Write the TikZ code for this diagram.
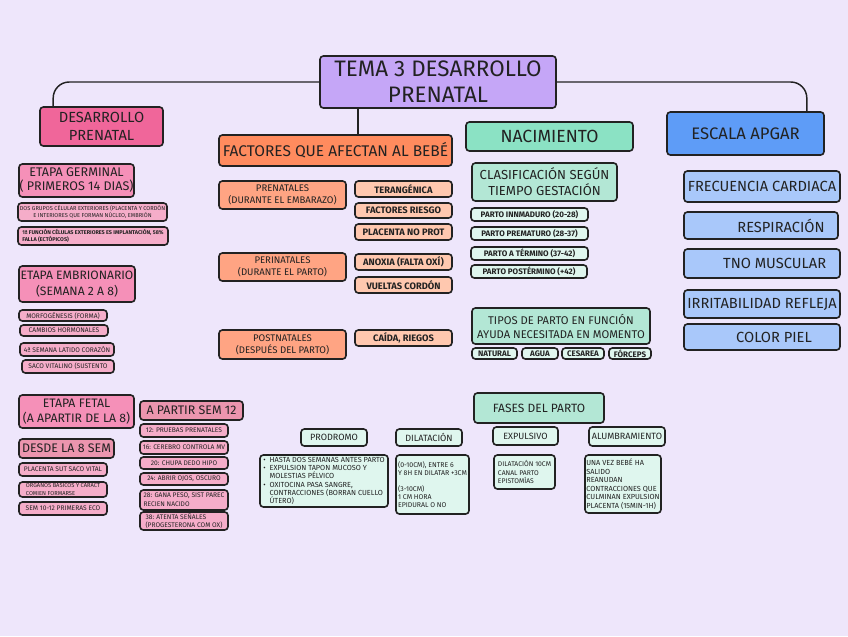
\documentclass[tikz,border=0pt]{standalone}
\usepackage{fontspec}
\setmainfont{Fira Sans}
\definecolor{bgc}{HTML}{EEE6FB}
\definecolor{titlec}{HTML}{C5A6F7}
\definecolor{pinkA}{HTML}{F0669A}
\definecolor{pinkB}{HTML}{F590B8}
\definecolor{pinkC}{HTML}{F5ADC9}
\definecolor{pinkD}{HTML}{EB95AE}
\definecolor{orA}{HTML}{FF8B5E}
\definecolor{orB}{HTML}{FFA483}
\definecolor{orC}{HTML}{FFC8AF}
\definecolor{mnA}{HTML}{8BE2C4}
\definecolor{mnB}{HTML}{B3E7D5}
\definecolor{mnC}{HTML}{DFF6EE}
\definecolor{blA}{HTML}{5E9CF7}
\definecolor{blB}{HTML}{A9C8FA}
\definecolor{ink}{HTML}{222222}
\newcommand\fz[2]{\fontsize{#1}{#2}\selectfont}
\newcommand\bx[7]{\node[#6, minimum width={(#4-#2)*0.75pt}, minimum height={(#5-#3)*0.75pt}] (#1) at ({(#2+#4)/2},{(#3+#5)/2}) {#7};}
\tikzset{
  base/.style={draw=ink, line width=1.2pt, rounded corners=2.5pt, inner sep=0pt, align=center, text=ink},
  conn/.style={draw=ink, line width=1.1pt, rounded corners=12pt},
}
\begin{document}
\begin{tikzpicture}[x=0.75pt,y=-0.75pt]
\fill[bgc] (0,0) rectangle (848,636);
\useasboundingbox (0,0) rectangle (848,636);

% main
\bx{title}{320}{56}{556}{108}{base,fill=titlec,font=\fz{16.8}{19.5}}{TEMA 3 DESARROLLO\\PRENATAL}
\bx{dp}{40}{107}{163}{146}{base,fill=pinkA,font=\fz{11}{13}}{DESARROLLO\\PRENATAL}
\bx{fac}{219}{135}{452}{166}{base,fill=orA,font=\fz{11.6}{13}}{FACTORES QUE AFECTAN AL BEBÉ}
\bx{nac}{466}{122}{633}{151}{base,fill=mnA,font=\fz{13.2}{15}}{NACIMIENTO}
\bx{apg}{667}{112}{824}{155}{base,fill=blA,font=\fz{12.5}{14}}{ESCALA APGAR}

\draw[conn] (title.west) -| ([xshift=10.5pt]dp.north west);
\draw[conn] (title.east) -| ([xshift=-13.5pt]apg.north east);
\draw[conn] ([xshift=-60pt]title.south) -- ([xshift=-60pt]title.south |- fac.north);

% desarrollo prenatal column
\bx{germ}{19}{164}{134}{197}{base,fill=pinkB,font=\fz{9.4}{10.5}}{ETAPA GERMINAL\\( PRIMEROS 14 DIAS)}
\bx{g1}{18}{203}{167}{221}{base,fill=pinkC,font=\fz{4.25}{5.2}}{DOS GRUPOS CÉLULAR EXTERIORES (PLACENTA Y CORDÓN\\ E INTERIORES QUE FORMAN NÚCLEO, EMBRIÓN}
\bx{g2}{18}{227}{168}{245}{base,fill=pinkC,font=\fz{4.1}{5.2}\bfseries,align=left}{1ª FUNCIÓN CÉLULAS EXTERIORES ES IMPLANTACIÓN, 58\%\\FALLA (ECTÓPICOS)\hspace{5.5em}}
\bx{emb}{19}{266}{135}{302}{base,fill=pinkB,font=\fz{9.1}{12}}{ETAPA EMBRIONARIO\\(SEMANA 2 A 8)}
\bx{e1}{19}{310}{107}{321}{base,fill=pinkC,font=\fz{5}{6}}{MORFOGÉNESIS (FORMA)}
\bx{e2}{20}{325}{108}{336}{base,fill=pinkC,font=\fz{5}{6}}{CAMBIOS HORMONALES}
\bx{e3}{20}{343}{114}{356}{base,fill=pinkC,font=\fz{5}{6}}{4ª SEMANA LATIDO CORAZÓN}
\bx{e4}{22}{360}{114}{373}{base,fill=pinkC,font=\fz{5}{6}}{SACO VITALINO (SUSTENTO}
\bx{fet}{19}{395}{134}{428}{base,fill=pinkB,font=\fz{9.2}{11.3}}{ETAPA FETAL\\(A APARTIR DE LA 8)}
\bx{d8}{19}{439}{114}{458}{base,fill=pinkD,font=\fz{9.3}{10}}{DESDE LA 8 SEM}
\bx{f1}{19}{463}{107}{476}{base,fill=pinkC,font=\fz{5}{6}}{PLACENTA SUT SACO VITAL}
\bx{f2}{19}{482}{107}{497}{base,fill=pinkC,font=\fz{4.3}{5.4},align=left}{ORGANOS BASICOS Y CARACT\\COMIEN FORMARSE}
\bx{f3}{19}{502}{107}{515}{base,fill=pinkC,font=\fz{5}{6}}{SEM 10-12 PRIMERAS ECO}
\bx{a12}{140}{401}{243}{420}{base,fill=pinkD,font=\fz{9.3}{10}}{A PARTIR SEM 12}
\bx{s1}{140}{424}{228}{437}{base,fill=pinkC,font=\fz{5}{6}}{12: PRUEBAS PRENATALES}
\bx{s2}{140}{441}{228}{454}{base,fill=pinkC,font=\fz{5}{6}}{16: CEREBRO CONTROLA MV}
\bx{s3}{140}{457}{228}{469}{base,fill=pinkC,font=\fz{5}{6}}{20: CHUPA DEDO HIPO}
\bx{s4}{140}{473}{228}{485}{base,fill=pinkC,font=\fz{5}{6}}{24: ABRIR OJOS, OSCURO}
\bx{s5}{140}{490}{228}{510}{base,fill=pinkC,font=\fz{5}{6.5},align=left}{28: GANA PESO, SIST PAREC\\RECIEN NACIDO}
\bx{s6}{140}{512}{228}{530}{base,fill=pinkC,font=\fz{5}{6.5},align=left}{38: ATENTA SEÑALES\\(PROGESTERONA COM OX)}

% factores
\bx{pre}{219}{181}{346}{209}{base,fill=orB,font=\fz{7.2}{9}}{PRENATALES\\(DURANTE EL EMBARAZO)}
\bx{t1}{355}{181}{452}{197}{base,fill=orC,font=\fz{7}{8}\bfseries}{TERANGÉNICA}
\bx{t2}{355}{203}{452}{218}{base,fill=orC,font=\fz{7}{8}\bfseries}{FACTORES RIESGO}
\bx{t3}{355}{224}{452}{240}{base,fill=orC,font=\fz{7}{8}\bfseries}{PLACENTA NO PROT}
\bx{per}{219}{253}{346}{281}{base,fill=orB,font=\fz{7.2}{9}}{PERINATALES\\(DURANTE EL PARTO)}
\bx{t4}{355}{254}{452}{270}{base,fill=orC,font=\fz{7}{8}\bfseries}{ANOXIA (FALTA OXÍ)}
\bx{t5}{355}{277}{452}{293}{base,fill=orC,font=\fz{7}{8}\bfseries}{VUELTAS CORDÓN}
\bx{pos}{219}{330}{346}{359}{base,fill=orB,font=\fz{7.2}{9}}{POSTNATALES\\(DESPUÉS DEL PARTO)}
\bx{t6}{355}{330}{452}{346}{base,fill=orC,font=\fz{7}{8}\bfseries}{CAÍDA, RIEGOS}

% nacimiento
\bx{cla}{472}{163}{617}{201}{base,fill=mnB,font=\fz{9.8}{12}}{CLASIFICACIÓN SEGÚN\\TIEMPO GESTACIÓN}
\bx{p1}{471}{208}{588}{221}{base,fill=mnC,font=\fz{6}{7}\bfseries}{PARTO INNMADURO (20-28)}
\bx{p2}{471}{227}{588}{240}{base,fill=mnC,font=\fz{6}{7}\bfseries}{PARTO PREMATURO (28-37)}
\bx{p3}{471}{247}{588}{260}{base,fill=mnC,font=\fz{6}{7}\bfseries}{PARTO A TÉRMINO (37-42)}
\bx{p4}{471}{265}{587}{278}{base,fill=mnC,font=\fz{6}{7}\bfseries}{PARTO POSTÉRMINO (+42)}
\bx{tip}{472}{308}{650}{344}{base,fill=mnB,font=\fz{8.4}{10.5}}{TIPOS DE PARTO EN FUNCIÓN\\AYUDA NECESITADA EN MOMENTO}
\bx{n1}{472}{348}{517}{359}{base,fill=mnC,font=\fz{6}{7}\bfseries}{NATURAL}
\bx{n2}{522}{348}{558}{359}{base,fill=mnC,font=\fz{6}{7}\bfseries}{AGUA}
\bx{n3}{562}{348}{604}{359}{base,fill=mnC,font=\fz{6}{7}\bfseries}{CESAREA}
\bx{n4}{609}{348}{651}{359}{base,fill=mnC,font=\fz{6}{7}\bfseries}{FÓRCEPS}

% fases
\bx{fas}{474}{393}{604}{423}{base,fill=mnB,font=\fz{9}{10}}{FASES DEL PARTO}
\bx{ph1}{301}{429}{367}{446}{base,fill=mnC,font=\fz{6.8}{7.5}}{PRODROMO}
\bx{ph2}{396}{429}{462}{446}{base,fill=mnC,font=\fz{6.8}{7.5}}{DILATACIÓN}
\bx{ph3}{493}{427}{558}{445}{base,fill=mnC,font=\fz{6.8}{7.5}}{EXPULSIVO}
\bx{ph4}{589}{427}{665}{446}{base,fill=mnC,font=\fz{6.8}{7.5}}{ALUMBRAMIENTO}
\bx{c1}{260}{455}{388}{507}{base,fill=mnC,font=\fz{5.5}{6.1},align=left}{\textbullet\ \ HASTA DOS SEMANAS ANTES PARTO\\\textbullet\ \ EXPULSION TAPON MUCOSO Y\\\phantom{\textbullet\ \ }MOLESTIAS PÉLVICO\\\textbullet\ \ OXITOCINA PASA SANGRE,\\\phantom{\textbullet\ \ }CONTRACCIONES (BORRAN CUELLO\\\phantom{\textbullet\ \ }ÚTERO)}
\bx{c2}{396}{455}{469}{514}{base,fill=mnC,font=\fz{5.2}{6},align=left}{(0-10CM), ENTRE 6\\Y 8H EN DILATAR +3CM\\[6pt](3-10CM)\\1 CM HORA\\EPIDURAL O NO}
\bx{c3}{494}{455}{555}{489}{base,fill=mnC,font=\fz{5.1}{6.2},align=left}{DILATACIÓN 10CM\\CANAL PARTO\\EPISTOMÍAS}
\bx{c4}{585}{455}{661}{513}{base,fill=mnC,font=\fz{5.5}{6.4},align=left}{UNA VEZ BEBÉ HA\\SALIDO\\REANUDAN\\CONTRACCIONES QUE\\CULMINAN EXPULSION\\PLACENTA (15MIN-1H)}

% apgar
\bx{r1}{684}{171}{840}{202}{base,fill=blB,font=\fz{11}{12}}{FRECUENCIA CARDIACA}
\bx{r2}{684}{212}{838}{239}{base,fill=blB,font=\fz{11}{12}}{\hspace*{30pt}RESPIRACIÓN}
\bx{r3}{684}{249}{840}{278}{base,fill=blB,font=\fz{11}{12}}{\hspace*{19pt}TNO MUSCULAR}
\bx{r4}{684}{290}{840}{318}{base,fill=blB,font=\fz{11}{12}}{IRRITABILIDAD REFLEJA}
\bx{r5}{684}{324}{840}{350}{base,fill=blB,font=\fz{11}{12}}{\hspace*{18pt}COLOR PIEL}
\end{tikzpicture}
\end{document}
